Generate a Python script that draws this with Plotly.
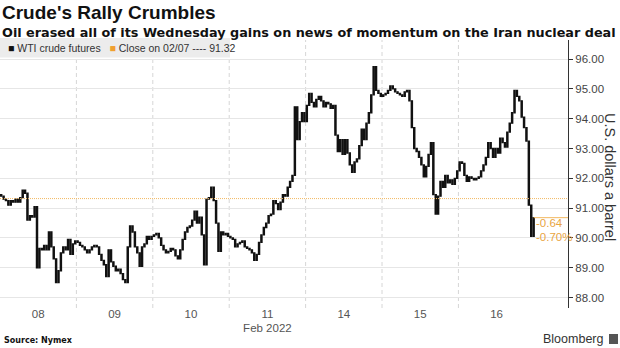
import plotly.graph_objects as go

# WTI crude futures, intraday closes per trading session (Feb 2022)
session_labels = ["08", "09", "10", "11", "14", "15", "16"]
month_label = "Feb 2022"

feb08 = [91.40, 91.30, 91.25, 91.10, 91.25, 91.20, 91.30, 91.20, 91.35, 91.60, 91.50, 90.60,
         90.75, 90.70, 91.05, 89.00, 89.65, 89.60, 89.75, 89.60, 90.20, 89.70, 89.30, 88.50,
         88.90, 89.50, 89.70, 89.60, 89.95, 89.45, 89.80, 89.90]
feb09 = [89.85, 89.75, 89.70, 89.60, 89.50, 89.60, 89.70, 89.75, 89.70, 89.45, 89.25, 89.10,
         88.70, 89.60, 89.20, 89.05, 88.90, 88.95, 88.80, 88.60, 88.50, 89.70, 90.40, 90.20,
         89.70, 89.50, 89.05, 89.70, 89.80, 90.05, 89.95, 90.05]
feb10 = [90.10, 90.15, 90.00, 89.75, 89.60, 89.50, 89.55, 89.65, 89.60, 89.40, 89.30, 89.60,
         89.95, 90.20, 90.35, 90.40, 90.60, 90.90, 90.50, 90.70, 90.10, 89.10, 91.30, 91.35,
         91.70, 91.25, 90.50, 89.55, 90.20, 90.10, 90.15, 90.05]
feb11 = [90.00, 89.95, 89.70, 89.80, 89.85, 89.90, 89.70, 89.65, 89.60, 89.50, 89.25, 89.45,
         89.85, 90.10, 90.35, 90.50, 90.75, 90.80, 91.25, 91.15, 90.95, 91.20, 91.45, 91.40,
         91.70, 91.90, 92.10, 94.40, 93.30, 93.90, 94.20, 93.90]
feb14 = [94.45, 94.85, 94.55, 94.40, 94.65, 94.75, 94.60, 94.40, 94.55, 94.50, 94.35, 94.45,
         93.45, 92.90, 93.30, 92.80, 93.30, 92.85, 92.45, 92.20, 92.55, 92.65, 93.10, 93.65,
         93.30, 93.85, 94.20, 94.80, 95.75, 94.95, 94.85, 94.75]
feb15 = [94.80, 94.85, 94.95, 95.10, 95.00, 94.90, 94.85, 94.80, 94.75, 94.90, 94.95, 94.60,
         93.70, 93.00, 92.90, 92.70, 92.45, 92.05, 92.40, 92.80, 93.20, 91.45, 90.80, 91.40,
         91.90, 91.70, 92.10, 91.85, 91.95, 91.80, 92.00, 92.25]
feb16 = [92.55, 92.50, 92.10, 91.90, 92.05, 92.00, 91.95, 92.00, 92.05, 92.25, 92.45, 92.70,
         93.20, 93.00, 92.70, 93.00, 92.85, 93.35, 93.20, 93.05, 93.55, 93.85, 94.20, 94.95,
         94.75, 94.60, 94.05, 93.70, 93.25, 91.10, 90.05, 90.68]

first_open = 91.45
prior_close = 91.32  # close on 02/07

sessions = [feb08, feb09, feb10, feb11, feb14, feb15, feb16]
closes = [c for s in sessions for c in s]
opens = [first_open] + closes[:-1]
highs = [max(o, c) for o, c in zip(opens, closes)]
lows = [min(o, c) for o, c in zip(opens, closes)]
xs = list(range(len(closes)))

# session geometry in bar units
starts = []
pos = 0
for s in sessions:
    starts.append(pos)
    pos += len(s)
centers = [st + (len(s) - 1) / 2 for st, s in zip(starts, sessions)]
boundaries = [st - 0.5 for st in starts[1:]]
tick_text = [f"{lab}<br>{month_label}" if lab == "11" else lab for lab in session_labels]

W, H = 620, 348
ML, MR, MT, MB = 0, 52, 40, 40
plot_w = W - ML - MR
plot_h = H - MT - MB
X_MAX = 237.4


def px(x):
    return (x - ML) / plot_w


def py(y):
    return (H - MB - y) / plot_h


ORANGE = "#f0a030"
ORANGE_TXT = "#e9a53f"
DARK = "#333333"
SANS = "Liberation Sans, Arial, sans-serif"

fig = go.Figure()
fig.add_trace(go.Candlestick(
    x=xs, open=opens, high=highs, low=lows, close=closes,
    increasing=dict(line=dict(color="#111111", width=1.3), fillcolor="#111111"),
    decreasing=dict(line=dict(color="#111111", width=1.3), fillcolor="#111111"),
    whiskerwidth=0,
    showlegend=False,
    hoverinfo="skip",
))

shapes = []
for b in boundaries:
    shapes.append(dict(type="line", xref="x", yref="paper", x0=b, x1=b, y0=0, y1=1,
                       line=dict(color="#d6d6d6", width=1, dash="4px,3px"), layer="below"))
# close on 02/07 reference line
shapes.append(dict(type="line", xref="paper", yref="y", x0=0, x1=1, y0=prior_close, y1=prior_close,
                   line=dict(color="#f2b860", width=1, dash="1px,1px"), layer="above"))
# last close marker line
last_close = closes[-1]
shapes.append(dict(type="line", xref="x", yref="y", x0=len(closes) - 1, x1=X_MAX,
                   y0=last_close, y1=last_close, line=dict(color="#f2b860", width=1)))
# legend background
shapes.append(dict(type="rect", xref="paper", yref="paper", x0=px(0), x1=px(230), y0=py(57.5), y1=py(38),
                   fillcolor="#ececec", line=dict(width=0), layer="above"))
# logo mark
shapes.append(dict(type="rect", xref="paper", yref="paper", x0=px(609), x1=px(618), y0=py(344), y1=py(334),
                   fillcolor="#555555", line=dict(width=0)))

change = last_close - prior_close
pct = change / prior_close * 100

annotations = [
    dict(text="<b>Crude's Rally Crumbles</b>", xref="paper", yref="paper", x=px(0), y=py(13),
         xanchor="left", yanchor="middle", showarrow=False,
         font=dict(family=SANS, size=19, color="#111111")),
    dict(text="<b>Oil erased all of its Wednesday gains on news of momentum on the Iran nuclear deal</b>",
         xref="paper", yref="paper", x=px(0), y=py(33), xanchor="left", yanchor="middle", showarrow=False,
         font=dict(family="DejaVu Sans, sans-serif", size=12.8, color="#111111")),
    dict(text=("<span style='color:#111111'>■</span> WTI crude futures   "
               f"<span style='color:{ORANGE}'>■</span> Close on 02/07 ---- {prior_close:.2f}"),
         xref="paper", yref="paper", x=px(6), y=py(48), xanchor="left", yanchor="middle", showarrow=False,
         font=dict(family=SANS, size=10.5, color=DARK)),
    dict(text=f"-{abs(change):.2f}", xref="paper", yref="paper", x=px(534), y=py(223),
         xanchor="left", yanchor="middle", showarrow=False,
         font=dict(family=SANS, size=11.5, color=ORANGE_TXT)),
    dict(text=f"-{abs(pct):.2f}%", xref="paper", yref="paper", x=px(534), y=py(237),
         xanchor="left", yanchor="middle", showarrow=False,
         font=dict(family=SANS, size=11.5, color=ORANGE_TXT)),
    dict(text="U.S. dollars a barrel", xref="paper", yref="paper", x=px(610), y=py(177),
         xanchor="center", yanchor="middle", textangle=90, showarrow=False,
         font=dict(family=SANS, size=14.5, color=DARK)),
    dict(text="<b>Source: Nymex</b>", xref="paper", yref="paper", x=px(2), y=py(340),
         xanchor="left", yanchor="middle", showarrow=False,
         font=dict(family="DejaVu Sans, sans-serif", size=8, color="#111111")),
    dict(text="Bloomberg", xref="paper", yref="paper", x=px(605), y=py(339),
         xanchor="right", yanchor="middle", showarrow=False,
         font=dict(family=SANS, size=12.5, color=DARK)),
]

fig.update_layout(
    width=W, height=H,
    margin=dict(l=ML, r=MR, t=MT, b=MB),
    paper_bgcolor="white", plot_bgcolor="white",
    shapes=shapes, annotations=annotations,
    font=dict(family=SANS, color=DARK),
    xaxis=dict(
        range=[-0.5, X_MAX], rangeslider=dict(visible=False),
        tickmode="array", tickvals=centers, ticktext=tick_text,
        showgrid=False, zeroline=False, showline=False, ticks="",
        ticklabelstandoff=-3,
        tickfont=dict(size=11.5, color="#555555"),
    ),
    yaxis=dict(
        side="right", range=[87.65, 96.64],
        tickmode="array", tickvals=list(range(88, 97)),
        ticktext=[f"{v:.2f}" for v in range(88, 97)],
        ticks="outside", ticklen=4, tickcolor=DARK,
        showline=True, linecolor=DARK, linewidth=1,
        showgrid=True, gridcolor="#e6e6e6", gridwidth=1, zeroline=False,
        tickfont=dict(size=11.5, color="#444444"),
    ),
)

fig.write_html("out.html")
